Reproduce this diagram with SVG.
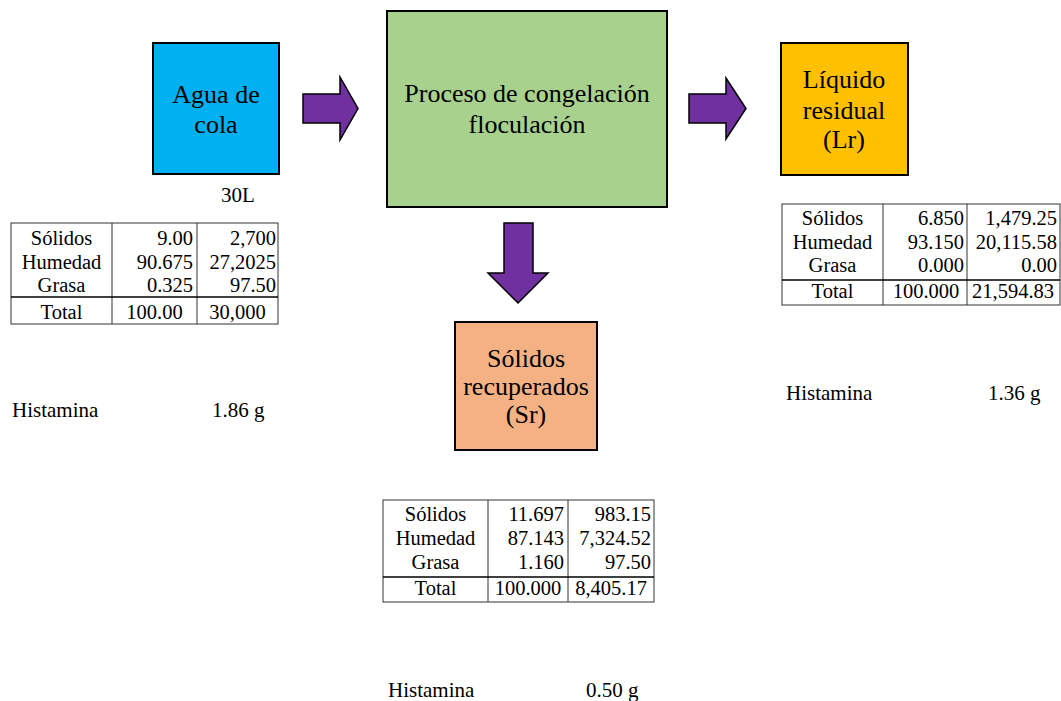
<svg xmlns="http://www.w3.org/2000/svg" width="1061" height="701" viewBox="0 0 1061 701">
  <style>
    text { font-family: "Liberation Serif", "Times New Roman", serif; fill: #000; }
    .box { stroke: #000; stroke-width: 2; }
    .lbl { font-size: 26px; text-anchor: middle; }
    .cell { font-size: 20.5px; }
    .c { text-anchor: middle; }
    .r { text-anchor: end; }
    .note { font-size: 21px; }
    .arrow { fill: #7030A0; stroke: #000; stroke-width: 1.5; stroke-linejoin: miter; }
    .grid { fill: none; stroke: #333; stroke-width: 1; }
    .rule { stroke: #000; stroke-width: 1.5; }
  </style>
  <rect width="1061" height="701" fill="#fff"/>

  <!-- Process nodes -->
  <g id="agua-de-cola">
    <rect class="box" x="153" y="43" width="126" height="131" fill="#00B0F0"/>
    <text class="lbl" x="216" y="103">Agua de</text>
    <text class="lbl" x="216" y="133">cola</text>
  </g>

  <g id="proceso">
    <rect class="box" x="387" y="11" width="280" height="196" fill="#A9D18E"/>
    <text class="lbl" x="527" y="102">Proceso de congelación</text>
    <text class="lbl" x="527" y="133">floculación</text>
  </g>

  <g id="liquido-residual">
    <rect class="box" x="781" y="43" width="127" height="132" fill="#FFC000"/>
    <text class="lbl" x="844" y="88">Líquido</text>
    <text class="lbl" x="844" y="119">residual</text>
    <text class="lbl" x="844" y="148">(Lr)</text>
  </g>

  <g id="solidos-recuperados">
    <rect class="box" x="455" y="322" width="142" height="128" fill="#F4B183"/>
    <text class="lbl" x="526" y="367">Sólidos</text>
    <text class="lbl" x="526" y="395">recuperados</text>
    <text class="lbl" x="526" y="423">(Sr)</text>
  </g>

  <!-- Block arrows between stages -->
  <g id="connectors">
    <polygon class="arrow" points="303,94 340,94 340,77 358,108.5 340,140 340,123 303,123"/>
    <polygon class="arrow" points="689,94 726,94 726,78 746,108.5 726,139 726,123 689,123"/>
    <polygon class="arrow" points="504,223 533,223 533,273 548,273 518,303 488,273 504,273"/>
  </g>

  <!-- Feed volume -->
  <g id="volumen">
    <text class="note" x="221" y="202">30L</text>
  </g>

  <!-- Composition table: feed -->
  <g id="tabla-agua">
    <rect class="grid" x="11" y="223" width="267" height="101"/>
    <line class="grid" x1="112" y1="223" x2="112" y2="324"/>
    <line class="grid" x1="197" y1="223" x2="197" y2="324"/>
    <line class="rule" x1="11" y1="297" x2="278" y2="297"/>
    <g class="cell">
      <text class="c" x="61.5" y="245">Sólidos</text>
      <text class="c" x="61.5" y="268.5">Humedad</text>
      <text class="c" x="61.5" y="292">Grasa</text>
      <text class="c" x="61.5" y="319">Total</text>
      <text class="r" x="193" y="245">9.00</text>
      <text class="r" x="193" y="268.5">90.675</text>
      <text class="r" x="193" y="292">0.325</text>
      <text class="c" x="154.5" y="319">100.00</text>
      <text class="r" x="276" y="245">2,700</text>
      <text class="r" x="276" y="268.5">27,2025</text>
      <text class="r" x="276" y="292">97.50</text>
      <text class="c" x="237.5" y="319">30,000</text>
    </g>
  </g>

  <!-- Composition table: residual liquid -->
  <g id="tabla-liquido">
    <rect class="grid" x="782" y="204" width="278" height="101"/>
    <line class="grid" x1="883" y1="204" x2="883" y2="305"/>
    <line class="grid" x1="967" y1="204" x2="967" y2="305"/>
    <line class="rule" x1="782" y1="280" x2="1060" y2="280"/>
    <g class="cell">
      <text class="c" x="832.5" y="225">Sólidos</text>
      <text class="c" x="832.5" y="248.5">Humedad</text>
      <text class="c" x="832.5" y="272">Grasa</text>
      <text class="c" x="832.5" y="298">Total</text>
      <text class="r" x="964" y="225">6.850</text>
      <text class="r" x="964" y="248.5">93.150</text>
      <text class="r" x="964" y="272">0.000</text>
      <text class="c" x="926" y="298">100.000</text>
      <text class="r" x="1057" y="225">1,479.25</text>
      <text class="r" x="1057" y="248.5">20,115.58</text>
      <text class="r" x="1057" y="272">0.00</text>
      <text class="c" x="1013" y="298">21,594.83</text>
    </g>
  </g>

  <!-- Composition table: recovered solids -->
  <g id="tabla-solidos">
    <rect class="grid" x="383" y="500" width="271" height="102"/>
    <line class="grid" x1="488" y1="500" x2="488" y2="602"/>
    <line class="grid" x1="568" y1="500" x2="568" y2="602"/>
    <line class="rule" x1="383" y1="577" x2="654" y2="577"/>
    <g class="cell">
      <text class="c" x="435.5" y="521">Sólidos</text>
      <text class="c" x="435.5" y="545">Humedad</text>
      <text class="c" x="435.5" y="569">Grasa</text>
      <text class="c" x="435.5" y="595">Total</text>
      <text class="r" x="564" y="521">11.697</text>
      <text class="r" x="564" y="545">87.143</text>
      <text class="r" x="564" y="569">1.160</text>
      <text class="c" x="528" y="595">100.000</text>
      <text class="r" x="651" y="521">983.15</text>
      <text class="r" x="651" y="545">7,324.52</text>
      <text class="r" x="651" y="569">97.50</text>
      <text class="c" x="611" y="595">8,405.17</text>
    </g>
  </g>

  <!-- Histamine contents -->
  <g id="histamina-agua">
    <text class="note" x="12" y="417">Histamina</text>
    <text class="note" x="212" y="417">1.86 g</text>
  </g>
  <g id="histamina-liquido">
    <text class="note" x="786" y="400">Histamina</text>
    <text class="note" x="988" y="400">1.36 g</text>
  </g>
  <g id="histamina-solidos">
    <text class="note" x="388" y="697">Histamina</text>
    <text class="note" x="586" y="697">0.50 g</text>
  </g>
</svg>
